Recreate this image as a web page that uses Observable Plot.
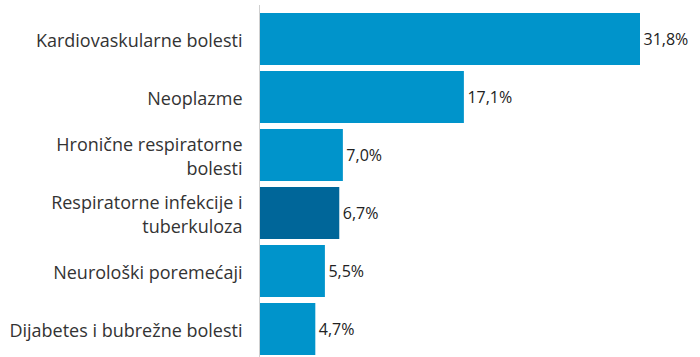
<!DOCTYPE html>
<html>
<head>
<meta charset="utf-8">
<script src="https://cdn.jsdelivr.net/npm/d3@7"></script>
<script src="https://cdn.jsdelivr.net/npm/@observablehq/plot@0.6"></script>
<style>
  html, body { margin: 0; padding: 0; background: #fff; }
  #chart svg { display: block; }
</style>
</head>
<body>
<div id="chart"></div>
<script>
const categories = [
  "Kardiovaskularne bolesti",
  "Neoplazme",
  "Hronične respiratorne bolesti",
  "Respiratorne infekcije i tuberkuloza",
  "Neurološki poremećaji",
  "Dijabetes i bubrežne bolesti"
];
const labelLines = [
  "Kardiovaskularne bolesti",
  "Neoplazme",
  "Hronične respiratorne\nbolesti",
  "Respiratorne infekcije i\ntuberkuloza",
  "Neurološki poremećaji",
  "Dijabetes i bubrežne bolesti"
];
const values = [31.8, 17.1, 7.0, 6.7, 5.5, 4.7];
const highlighted = [false, false, false, true, false, false];

const data = categories.map((c, i) => ({cat: c, label: labelLines[i], value: values[i], hi: highlighted[i]}));
const fmt = v => v.toFixed(1).replace(".", ",") + "%";

const chart = Plot.plot({
  width: 700,
  height: 357,
  marginLeft: 259,
  marginRight: 60,
  marginTop: 12,
  marginBottom: 2,
  style: {fontFamily: "'Open Sans', sans-serif", fontSize: "16px", color: "#333", background: "#fff"},
  x: {domain: [0, 31.8], axis: null},
  y: {domain: categories, axis: null, paddingInner: 0.11, paddingOuter: 0},
  marks: [
    Plot.barX(data, {y: "cat", x: "value", fill: d => d.hi ? "#006699" : "#0094CB"}),
    Plot.ruleX([0], {stroke: "#cfcfcf", strokeWidth: 1, insetTop: -7, insetBottom: -2}),
    Plot.text(data, {y: "cat", text: "label", frameAnchor: "left", textAnchor: "end", dx: -17, lineHeight: 1.33, fill: "#333", fontSize: 18}),
    Plot.text(data, {y: "cat", x: "value", text: d => fmt(d.value), textAnchor: "start", dx: 3, fill: "#222", fontSize: 16})
  ]
});
document.getElementById("chart").append(chart);
</script>
</body>
</html>
